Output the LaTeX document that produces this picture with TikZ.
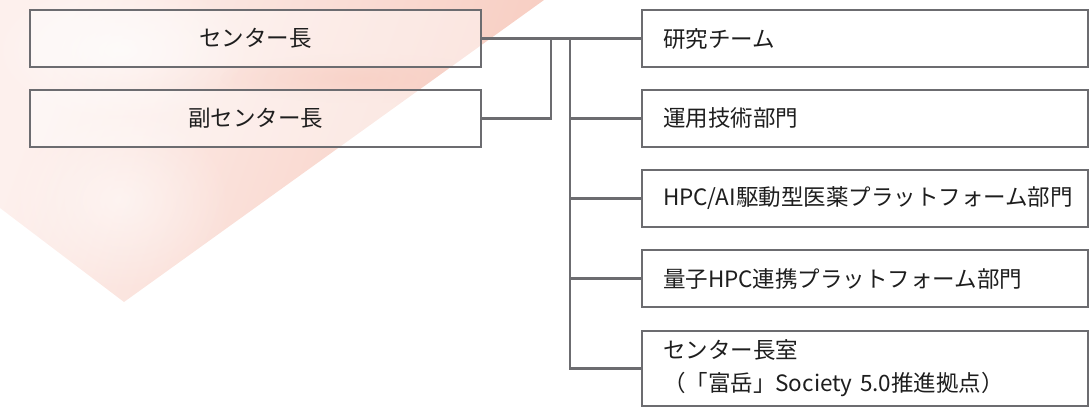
\documentclass[tikz,border=0pt]{standalone}
\usepackage{fontspec}
\setmainfont{Noto Sans CJK JP}
\usetikzlibrary{fadings}
\tikzfading[name=softblob, inner color=transparent!0, outer color=transparent!100]
\definecolor{pkA}{RGB}{253,240,237}
\definecolor{pkB}{RGB}{247,204,192}
\definecolor{linegray}{RGB}{108,108,112}
\definecolor{txt}{RGB}{30,30,30}
\tikzset{
  box/.style={draw=linegray, line width=2.2pt, minimum height=57pt, inner ysep=0pt, text=txt, font=\fontsize{22.5}{26}\selectfont},
  leftbox/.style={box, fill=white, fill opacity=0.45, text opacity=1, minimum width=451pt},
  rightbox/.style={box, fill=white, inner xsep=21pt, text width=404pt, align=left},
  conn/.style={draw=linegray, line width=2.2pt}
}
\begin{document}
\begin{tikzpicture}[x=1pt,y=-1pt]
\useasboundingbox (0,0) rectangle (1090,407);
% background shape
\begin{scope}
\clip (0,0) -- (544,0) -- (124,302) -- (0,208) -- cycle;
\shade[left color=pkA, right color=pkB, shading angle=70] (0,0) rectangle (544,302);
\fill[white, opacity=0.6, path fading=softblob] (120,50) ellipse (130 and 70);
\fill[white, opacity=0.5, path fading=softblob] (120,200) ellipse (110 and 90);
\fill[pkB, opacity=0.5, path fading=softblob] (360,78) ellipse (140 and 25);
\end{scope}
% left boxes
\node[leftbox] (c1) at (255.5,38.5) {センター長};
\node[leftbox] (c2) at (255.5,118.5) {副センター長};
% right boxes
\node[rightbox] (r1) at (865,38.5) {研究チーム};
\node[rightbox] (r2) at (865,118.5) {運用技術部門};
\node[rightbox] (r3) at (865,198.5) {HPC/AI駆動型医薬プラットフォーム部門};
\node[rightbox] (r4) at (865,278.5) {量子HPC連携プラットフォーム部門};
\node[rightbox, minimum height=75pt, font=\fontsize{22.5}{33}\selectfont] (r5) at (865,368.5) {センター長室\\（「富岳」Society 5.0推進拠点）};
% connectors
\coordinate (j1) at (551,38.5);
\coordinate (j2) at (570,38.5);
\draw[conn] (c1.east) -- (r1.west);
\draw[conn] (c2.east) -| (j1);
\draw[conn] (j2) |- (r5.west);
\draw[conn] (r2.west) -- (r2.west -| j2);
\draw[conn] (r3.west) -- (r3.west -| j2);
\draw[conn] (r4.west) -- (r4.west -| j2);
\end{tikzpicture}
\end{document}
